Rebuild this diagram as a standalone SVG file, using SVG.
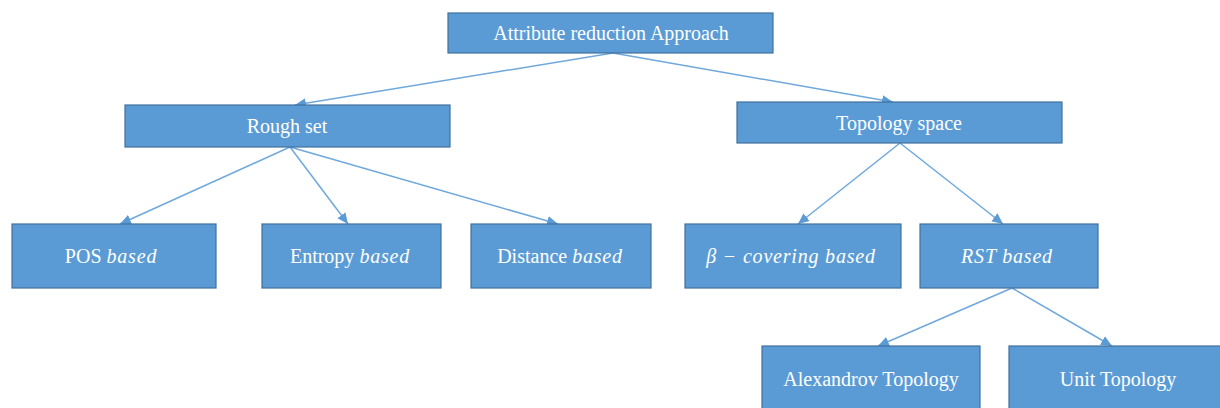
<svg xmlns="http://www.w3.org/2000/svg" width="1220" height="408" viewBox="0 0 1220 408">
<style>
.box{fill:#5b9bd5;stroke:#41719c;stroke-width:1.2}
.t{font-family:"Liberation Serif","Times New Roman",serif;font-size:20px;fill:#ffffff;text-anchor:middle}
.i{font-style:italic;letter-spacing:0.8px}
.c{stroke:#6fa8dc;stroke-width:1.5;fill:none;marker-end:url(#ah)}
</style>
<defs>
<marker id="ah" markerUnits="userSpaceOnUse" markerWidth="12" markerHeight="12" viewBox="0 0 12 12" refX="11" refY="6" orient="auto">
<path d="M0,1 L11,6 L0,11 Z" fill="#5b9bd5"/>
</marker>
</defs>
<rect width="1220" height="408" fill="#ffffff"/>
<g id="connectors">
<line class="c" x1="613" y1="53" x2="295" y2="105"/>
<line class="c" x1="613" y1="53" x2="893" y2="102"/>
<line class="c" x1="290" y1="147" x2="120" y2="224"/>
<line class="c" x1="290" y1="147" x2="348" y2="224"/>
<line class="c" x1="290" y1="147" x2="558" y2="224"/>
<line class="c" x1="900" y1="143" x2="798" y2="224"/>
<line class="c" x1="900" y1="143" x2="1003" y2="224"/>
<line class="c" x1="1012" y1="288" x2="878" y2="346"/>
<line class="c" x1="1012" y1="288" x2="1112" y2="346"/>
</g>
<g id="root">
<rect class="box" x="448" y="13" width="325" height="40"/>
<text class="t" x="611" y="40">Attribute reduction Approach</text>
</g>
<g id="rough">
<rect class="box" x="125" y="105" width="325" height="42"/>
<text class="t" x="287" y="133">Rough set</text>
</g>
<g id="topology">
<rect class="box" x="737" y="102" width="325" height="41"/>
<text class="t" x="899" y="130">Topology space</text>
</g>
<g id="pos">
<rect class="box" x="12" y="224" width="204" height="64"/>
<text class="t" x="111" y="263">POS <tspan class="i">based</tspan></text>
</g>
<g id="entropy">
<rect class="box" x="262" y="224" width="179" height="64"/>
<text class="t" x="350" y="263">Entropy <tspan class="i">based</tspan></text>
</g>
<g id="distance">
<rect class="box" x="471" y="224" width="180" height="64"/>
<text class="t" x="560" y="263">Distance <tspan class="i">based</tspan></text>
</g>
<g id="beta">
<rect class="box" x="685" y="224" width="216" height="64"/>
<text class="t i" x="791" y="263">β −  covering based</text>
</g>
<g id="rst">
<rect class="box" x="920" y="224" width="178" height="64"/>
<text class="t i" x="1007" y="263">RST based</text>
</g>
<g id="alexandrov">
<rect class="box" x="762" y="346" width="218" height="70"/>
<text class="t" x="871" y="386">Alexandrov  Topology</text>
</g>
<g id="unit">
<rect class="box" x="1009" y="346" width="212" height="70"/>
<text class="t" x="1118" y="386">Unit Topology</text>
</g>
</svg>
